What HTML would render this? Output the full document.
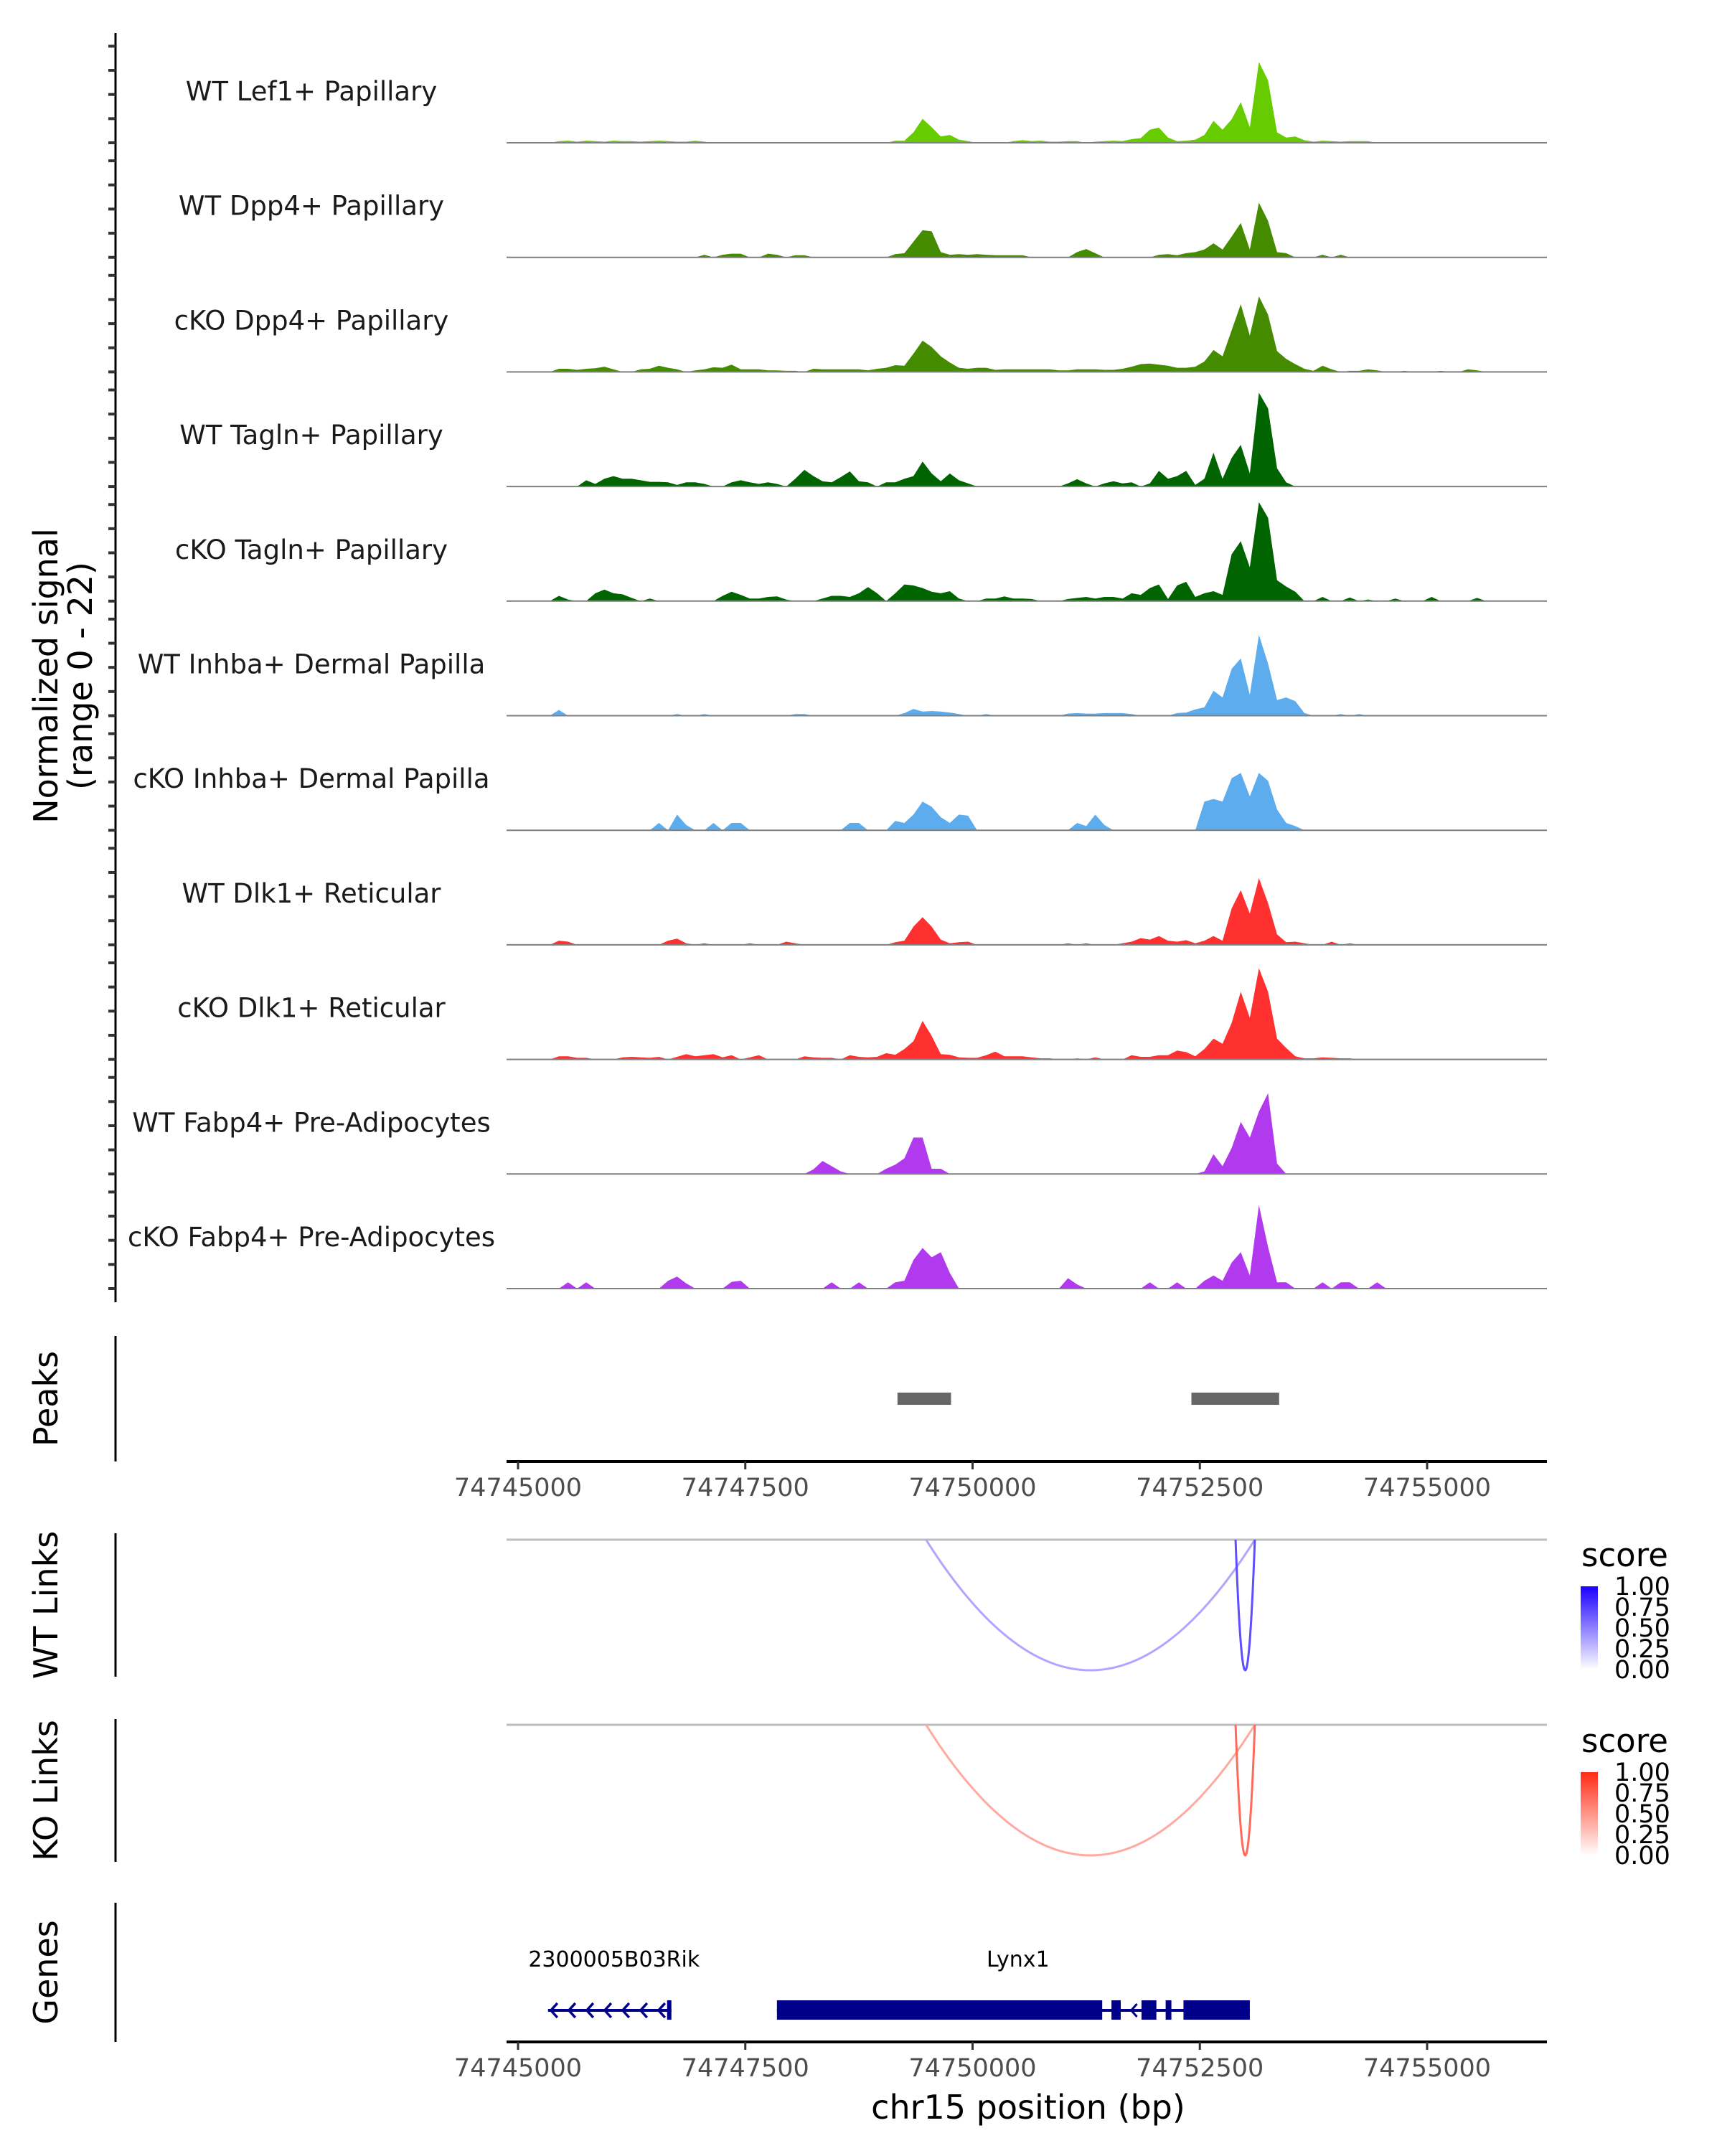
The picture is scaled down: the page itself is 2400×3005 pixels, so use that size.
<!DOCTYPE html>
<html><head><meta charset="utf-8">
<style>
html,body{margin:0;padding:0;background:#fff;}
svg text{font-family:"DejaVu Sans","Liberation Sans",sans-serif;}
</style></head>
<body>
<svg id="chart" xmlns="http://www.w3.org/2000/svg" width="2400" height="3000" viewBox="0 0 2400 3000">
<rect width="2400" height="3000" fill="#fff"/>
<g id="tracks"></g>
<text transform="translate(80,942) rotate(-90)" text-anchor="middle" font-size="46" fill="#000">Normalized signal</text>
<text transform="translate(128,942) rotate(-90)" text-anchor="middle" font-size="46" fill="#000">(range 0 - 22)</text>
<g id="peaks"></g>
<g id="links"></g>
<g id="genes"></g>
<defs>
<linearGradient id="gBlue" x1="0" y1="1" x2="0" y2="0"><stop offset="0" stop-color="#ffffff"/><stop offset="1" stop-color="#1a00ff"/></linearGradient>
<linearGradient id="gRed" x1="0" y1="1" x2="0" y2="0"><stop offset="0" stop-color="#ffffff"/><stop offset="1" stop-color="#ff2a14"/></linearGradient>
</defs>
</svg>
<script>
const NS='http://www.w3.org/2000/svg';
// ---- data ----
const trackNames=["WT Lef1+ Papillary","WT Dpp4+ Papillary","cKO Dpp4+ Papillary","WT Tagln+ Papillary","cKO Tagln+ Papillary","WT Inhba+ Dermal Papilla","cKO Inhba+ Dermal Papilla","WT Dlk1+ Reticular","cKO Dlk1+ Reticular","WT Fabp4+ Pre-Adipocytes","cKO Fabp4+ Pre-Adipocytes"];
const trackColors=["#66cc00","#458b00","#458b00","#006400","#006400","#5cacee","#5cacee","#ff3030","#ff3030","#b23aee","#b23aee"];
const lef1WT=[[4,.3],[5,.4],[6,.2],[7,.4],[8,.3],[9,.2],[10,.4],[11,.3],[12,.3],[13,.2],[14,.3],[15,.4],[16,.3],[17,.2],[18,.2],[19,.4],[20,.2],[30,.1],[34,.1],[41,.4],[42,.4],[43,2],[44,4.6],[45,3],[46,1.2],[47,1.5],[48,.6],[49,.3],[54,.3],[55,.5],[56,.3],[57,.4],[58,.2],[59,.2],[60,.3],[61,.3],[63,.2],[64,.3],[65,.4],[66,.3],[67,.7],[68,.9],[69,2.5],[70,2.9],[71,1],[72,.3],[73,.4],[74,.6],[75,1.5],[76,4.2],[77,2.5],[78,4.5],[79,7.8],[80,3],[81,15.5],[82,12],[83,2],[84,1],[85,1.2],[86,.5],[87,.2],[88,.4],[89,.3],[90,.2],[91,.3],[92,.3],[93,.3],[100,.1],[103,.1],[106,.1]];
const dpp4WT=[[20,.5],[22,.5],[23,.7],[24,.7],[27,.7],[28,.5],[30,.4],[31,.4],[41,.6],[42,.8],[43,3],[44,5.2],[45,5],[46,1],[47,.5],[48,.6],[49,.5],[50,.6],[51,.5],[52,.4],[53,.4],[54,.4],[55,.4],[61,1],[62,1.6],[63,.8],[70,.5],[71,.6],[72,.4],[73,.8],[74,1],[75,1.5],[76,2.7],[77,1.5],[78,4],[79,6.6],[80,1.5],[81,10.5],[82,7],[83,1],[84,.8],[88,.5],[90,.5]];
const dpp4KO=[[4,.6],[5,.6],[6,.4],[7,.6],[8,.7],[9,1],[10,.5],[13,.5],[14,.6],[15,1.2],[16,.8],[17,.5],[19,.3],[20,.5],[21,.9],[22,.8],[23,1.4],[24,.5],[25,.5],[26,.5],[27,.3],[28,.3],[29,.2],[30,.2],[32,.6],[33,.5],[34,.5],[35,.5],[36,.5],[37,.5],[38,.3],[39,.6],[40,.8],[41,1.3],[42,1.2],[43,3.5],[44,6],[45,4.8],[46,3],[47,1.8],[48,.8],[49,.6],[50,.8],[51,.8],[52,.4],[53,.5],[54,.5],[55,.5],[56,.5],[57,.5],[58,.5],[59,.3],[60,.3],[61,.5],[62,.5],[63,.5],[64,.4],[65,.4],[66,.6],[67,1],[68,1.5],[69,1.6],[70,1.4],[71,1.2],[72,.8],[73,.8],[74,1],[75,2],[76,4.2],[77,3],[78,8],[79,13],[80,7],[81,14.5],[82,11],[83,4],[84,2.5],[85,1.5],[86,.6],[87,.2],[88,1.2],[89,.5],[91,.2],[92,.2],[93,.5],[94,.3],[97,.2],[101,.2],[104,.5],[105,.3]];
const taglnWT=[[7,1.2],[8,.5],[9,1.5],[10,2],[11,1.5],[12,1.5],[13,1.2],[14,.9],[15,.9],[16,.8],[17,.3],[18,.8],[19,.8],[20,.5],[23,.8],[24,1.2],[25,.8],[26,.5],[27,.8],[28,.5],[30,1.5],[31,3.2],[32,2],[33,1],[34,.8],[35,1.8],[36,2.9],[37,1],[38,.8],[40,.8],[41,.8],[42,1.5],[43,2],[44,4.8],[45,2.5],[46,1],[47,2.5],[48,1.2],[49,.6],[60,.6],[61,1.4],[62,.6],[64,.6],[65,1],[66,.6],[67,.8],[69,.6],[70,3],[71,1.5],[72,2],[73,3],[74,.3],[75,1.5],[76,6.5],[77,1.5],[78,5.5],[79,8],[80,2.5],[81,18],[82,15],[83,3.5],[84,.8]];
const taglnKO=[[4,1],[5,.3],[8,1.5],[9,2.2],[10,1.5],[11,1.3],[12,.6],[14,.5],[22,1],[23,1.8],[24,1.2],[25,.5],[26,.5],[27,.8],[28,.9],[29,.3],[33,.5],[34,1],[35,1],[36,.8],[37,1.5],[38,2.7],[39,1.5],[41,1.5],[42,3.2],[43,3],[44,2.5],[45,1.8],[46,1.5],[47,1.9],[48,.5],[51,.5],[52,.5],[53,.9],[54,.5],[55,.5],[56,.4],[60,.4],[61,.6],[62,.8],[63,.5],[64,.8],[65,.8],[66,.5],[67,1.5],[68,1.2],[69,2.5],[70,3.2],[71,.4],[72,3],[73,3.7],[74,.8],[75,1.5],[76,1.9],[77,1.2],[78,9],[79,11.5],[80,6.5],[81,19],[82,16],[83,4],[84,2.8],[85,1.8],[88,.8],[91,.7],[93,.3],[96,.5],[100,.8],[105,.6]];
const inhbaWT=[[4,1.1],[17,.3],[20,.3],[30,.3],[31,.3],[42,.5],[43,1.3],[44,.8],[45,.9],[46,.8],[47,.6],[48,.3],[51,.3],[60,.4],[61,.5],[62,.4],[63,.4],[64,.5],[65,.5],[66,.5],[67,.3],[72,.5],[73,.6],[74,1.2],[75,1.6],[76,4.8],[77,3.5],[78,9],[79,11],[80,4],[81,15.5],[82,10],[83,3],[84,3.5],[85,2.8],[86,.5],[90,.3],[92,.3]];
const inhbaKO=[[15,1.4],[17,3],[18,1],[21,1.4],[23,1.4],[24,1.4],[36,1.4],[37,1.4],[41,1.8],[42,1.4],[43,3],[44,5.5],[45,4.5],[46,2.5],[47,1.4],[48,3],[49,2.8],[61,1.4],[62,.8],[63,3],[64,1],[75,5.5],[76,6],[77,5.5],[78,10],[79,11],[80,6.5],[81,11],[82,9.5],[83,4],[84,1.4],[85,.8]];
const dlk1WT=[[4,.8],[5,.6],[16,.8],[17,1.2],[18,.3],[20,.3],[25,.3],[29,.6],[30,.3],[41,.5],[42,.8],[43,3.5],[44,5.3],[45,3.5],[46,1],[47,.3],[48,.5],[49,.6],[60,.3],[62,.3],[66,.3],[67,.6],[68,1.3],[69,1],[70,1.7],[71,.8],[72,.6],[73,.9],[74,.3],[75,.8],[76,1.7],[77,.8],[78,7],[79,10.5],[80,6],[81,12.8],[82,8],[83,2],[84,.5],[85,.6],[86,.3],[89,.6],[91,.3]];
const dlk1KO=[[4,.6],[5,.6],[6,.3],[7,.3],[11,.4],[12,.5],[13,.4],[14,.3],[15,.5],[17,.5],[18,1],[19,.6],[20,.8],[21,1],[22,.4],[23,.8],[25,.4],[26,.8],[31,.6],[32,.4],[33,.3],[34,.3],[36,.8],[37,.5],[38,.4],[39,.5],[40,1.2],[41,.9],[42,2],[43,3.5],[44,7.4],[45,4.5],[46,1],[47,.9],[48,.4],[49,.3],[50,.3],[51,.8],[52,1.5],[53,.6],[54,.6],[55,.6],[56,.4],[57,.2],[58,.2],[61,.2],[63,.4],[67,.8],[68,.5],[69,.5],[70,.8],[71,.8],[72,1.7],[73,1.4],[74,.6],[75,2],[76,4],[77,3],[78,7],[79,13],[80,8],[81,17.5],[82,13],[83,4],[84,2.2],[85,.6],[86,.2],[87,.2],[88,.4],[89,.3],[90,.2],[91,.2]];
const fabp4WT=[[32,.9],[33,2.5],[34,1.5],[35,.5],[40,1],[41,1.8],[42,3],[43,7],[44,7],[45,1],[46,1],[75,.5],[76,3.8],[77,1.5],[78,5],[79,10],[80,7],[81,12],[82,15.5],[83,2]];
const fabp4KO=[[5,1.2],[7,1.2],[16,1.5],[17,2.3],[18,1],[23,1.3],[24,1.5],[34,1.2],[37,1.2],[41,1.2],[42,1.5],[43,5.5],[44,7.8],[45,6],[46,7],[47,3],[60,2],[61,.8],[69,1.2],[72,1.2],[75,1.5],[76,2.5],[77,1.5],[78,5],[79,7],[80,2.5],[81,16],[82,8],[83,1.2],[84,1.2],[88,1.2],[90,1.2],[91,1.2],[94,1.2]];
const trackSeries=[lef1WT,dpp4WT,dpp4KO,taglnWT,taglnKO,inhbaWT,inhbaKO,dlk1WT,dlk1KO,fabp4WT,fabp4KO];
const signalTicks=[0,5,10,15,20];
const xTicks=[74745000,74747500,74750000,74752500,74755000];
const peakStarts=[74749174,74752407];
const peakEnds=[74749763,74753372];
const linkStarts=[74749488,74752893];
const linkEnds=[74753105,74753105];
const wtLinkScores=[0.35,0.7];
const koLinkScores=[0.4,0.7];
const legendTicks=[1.00,0.75,0.50,0.25,0.00];
const geneNames=["2300005B03Rik","Lynx1"];
const rikRange=[74745330,74746687];
const lynxExonStarts=[74747848,74751528,74751858,74752124,74752320];
const lynxExonEnds=[74751426,74751630,74752022,74752187,74753050];

// ---- scales ----
const BIN=100, ORIGIN=74745000;
const X0=722, PXBP=0.1267, PLOT_L=706, PLOT_R=2156;
const xs=bp=>X0+(bp-ORIGIN)*PXBP;
const BASE0=199, TRACK_STEP=159.7, UNIT=7.26, TICK_UNIT=6.73;
const svg=document.getElementById('chart');
function el(tag,attrs,parent){const e=document.createElementNS(NS,tag);for(const k in attrs)e.setAttribute(k,attrs[k]);parent.appendChild(e);return e;}

// ---- coverage tracks ----
const tg=document.getElementById('tracks');
const axisLine=el('line',{x1:161,y1:46,x2:161,y2:1815,stroke:'#000','stroke-width':3},tg);


trackSeries.forEach((series,t)=>{
  const base=BASE0+TRACK_STEP*t;
  const g=el('g',{},tg);
  
  
  const dense=new Array(111).fill(0);
  series.forEach(([b,v])=>{dense[b]=v;});
  let d='M'+xs(ORIGIN).toFixed(1)+','+base;
  dense.forEach((v,i)=>{d+=' L'+xs(ORIGIN+BIN*(i+0.5)).toFixed(1)+','+(base-v*UNIT).toFixed(1);});
  d+=' L'+xs(ORIGIN+BIN*111).toFixed(1)+','+base+' Z';
  const area=el('path',{d:d,fill:trackColors[t]},g);
  
  
  const bl=el('line',{x1:PLOT_L,y1:base,x2:PLOT_R,y2:base,stroke:'#7f7f7f','stroke-width':2},g);
  
  
  const lab=el('text',{x:434,y:base-59,'text-anchor':'middle','font-size':37,fill:'#1a1a1a'},g);
  lab.textContent=trackNames[t];
  
  
  signalTicks.forEach(v=>{
    const tk=el('line',{x1:151,y1:base-v*TICK_UNIT,x2:161,y2:base-v*TICK_UNIT,stroke:'#333','stroke-width':4},g);
    
    
  });
});

// ---- x-axis helper ----
function xAxis(parent,y){
  const ln=el('line',{x1:PLOT_L,y1:y,x2:PLOT_R,y2:y,stroke:'#000','stroke-width':4},parent);
  
  
  xTicks.forEach(v=>{
    const tk=el('line',{x1:xs(v),y1:y,x2:xs(v),y2:y+11,stroke:'#333','stroke-width':3},parent);
    
    
    const tl=el('text',{x:xs(v),y:y+48,'text-anchor':'middle','font-size':35,fill:'#4d4d4d'},parent);
    tl.textContent=String(v);
    
    
  });
}
function sideTitle(parent,text,y1,y2,name){
  const ln=el('line',{x1:161,y1:y1,x2:161,y2:y2,stroke:'#000','stroke-width':3},parent);
  
  
  const t=el('text',{transform:'translate(80,'+((y1+y2)/2)+') rotate(-90)','text-anchor':'middle','font-size':46,fill:'#000'},parent);
  t.textContent=text;
  
  
}

// ---- peaks ----
const pg=document.getElementById('peaks');
sideTitle(pg,'Peaks',1862,2037,'peaks');
peakStarts.forEach((s,i)=>{
  const r=el('rect',{x:xs(s),y:1941,width:xs(peakEnds[i])-xs(s),height:17,fill:'#666'},pg);
  
  
});
xAxis(pg,2037);

// ---- links ----
const lg=document.getElementById('links');
function linkTrack(title,top,bottom,axTop,axBot,scores,grad,hue,legY,name){
  const g=el('g',{},lg);
  
  
  sideTitle(g,title,axTop,axBot,name);
  const bl=el('line',{x1:PLOT_L,y1:top,x2:PLOT_R,y2:top,stroke:'#bebebe','stroke-width':3},g);
  
  
  linkStarts.forEach((s,i)=>{
    const x1=xs(s),x2=xs(linkEnds[i]),d=bottom-top;
    const c=hue(scores[i]);
    const p=el('path',{d:`M${x1},${top} Q${(x1+x2)/2},${top+2*d} ${x2},${top}`,fill:'none',stroke:c,'stroke-width':3},g);
    
    
  });
  const lt=el('text',{x:2204,y:legY,'font-size':45,fill:'#000'},g);
  lt.textContent='score';
  
  
  const by=legY+28, bh=116;
  const bar=el('rect',{x:2203,y:by,width:24,height:bh,fill:'url(#'+grad+')'},g);
  
  
  legendTicks.forEach(v=>{
    const yy=by+(1-v)*bh;
    const tl=el('text',{x:2250,y:yy+12,'font-size':35,fill:'#000'},g);
    tl.textContent=v.toFixed(2);
    
    
  });
}
const blueHue=s=>`rgb(${Math.round(255-229*s)},${Math.round(255-255*s)},255)`;
const redHue=s=>`rgb(255,${Math.round(255-213*s)},${Math.round(255-235*s)})`;
linkTrack('WT Links',2146,2328,2137,2337,wtLinkScores,'gBlue',blueHue,2183,'wt-links');
linkTrack('KO Links',2404,2586,2396,2595,koLinkScores,'gRed',redHue,2442,'ko-links');

// ---- genes ----
const gg=document.getElementById('genes');
sideTitle(gg,'Genes',2652,2846,'genes');
const GC='#00008b', GY=2802;
const rik=el('g',{},gg);


el('line',{x1:xs(rikRange[0]),y1:GY,x2:xs(rikRange[1]),y2:GY,stroke:GC,'stroke-width':4},rik);
for(let k=0;k<7;k++){const cx=xs(rikRange[0])+4+k*25;el('polyline',{points:`${cx+9},${GY-10} ${cx},${GY} ${cx+9},${GY+10}`,fill:'none',stroke:GC,'stroke-width':3.5},rik);}
el('rect',{x:xs(rikRange[1])-6,y:2788,width:6,height:27,fill:GC},rik);
const rl=el('text',{x:xs((rikRange[0]+rikRange[1])/2)+6,y:2741,'text-anchor':'middle','font-size':30,fill:'#000'},gg);
rl.textContent=geneNames[0];


const lyn=el('g',{},gg);


el('line',{x1:xs(lynxExonStarts[0]),y1:GY,x2:xs(lynxExonEnds[4]),y2:GY,stroke:GC,'stroke-width':4},lyn);
lynxExonStarts.forEach((s,i)=>{
  const r=el('rect',{x:xs(s),y:2788,width:xs(lynxExonEnds[i])-xs(s),height:27,fill:GC},lyn);
  
  
});
const cv=xs(74751745);
el('polyline',{points:`${cv+8},${GY-9} ${cv},${GY} ${cv+8},${GY+9}`,fill:'none',stroke:GC,'stroke-width':3},lyn);
const ll=el('text',{x:xs(74750500),y:2741,'text-anchor':'middle','font-size':30,fill:'#000'},gg);
ll.textContent=geneNames[1];


xAxis(gg,2846);
const xt=el('text',{x:1433,y:2953,'text-anchor':'middle','font-size':46,fill:'#000'},gg);
xt.textContent='chr15 position (bp)';


</script>
</body></html>
